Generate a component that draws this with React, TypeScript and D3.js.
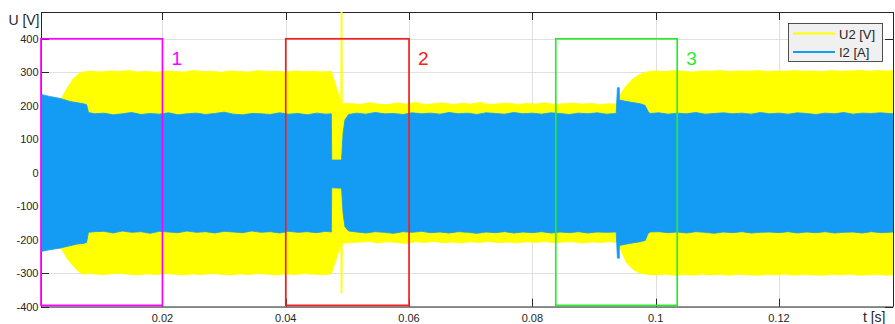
import React from 'react';
import * as d3 from 'd3';

type Env = [number, number, number]; // [t (s), upper envelope, lower envelope]

const X_TICKS = [0.02, 0.04, 0.06, 0.08, 0.1, 0.12];
const X_TICK_LABELS = ['0.02', '0.04', '0.06', '0.08', '0.1', '0.12'];
const Y_TICKS = [-400, -300, -200, -100, 0, 100, 200, 300, 400];
const SERIES_NAMES = ['U2 [V]', 'I2 [A]'];
const SERIES_COLORS = ['#ffff00', '#149cf4'];

const U2_ENVELOPE: Env[] = [
  [0.0003, 218, -222], [0.0036, 222, -226], [0.0045, 252, -255], [0.0056, 282, -280],
  [0.0064, 295, -295], [0.0070, 301, -302], [0.0085, 303, -301], [0.0100, 301, -304],
  [0.0115, 304, -302], [0.0130, 302, -300], [0.0145, 305, -303], [0.0160, 301, -305],
  [0.0175, 303, -302], [0.0190, 300, -304], [0.0205, 304, -301], [0.0220, 302, -303],
  [0.0235, 301, -305], [0.0250, 305, -302], [0.0265, 302, -304], [0.0280, 303, -301],
  [0.0295, 300, -303], [0.0310, 304, -305], [0.0325, 302, -302], [0.0340, 301, -304],
  [0.0355, 305, -301], [0.0370, 302, -303], [0.0385, 303, -305], [0.0400, 301, -302],
  [0.0415, 304, -304], [0.0430, 302, -301], [0.0445, 303, -303], [0.0460, 301, -304],
  [0.0474, 303, -302], [0.04893, 212, -214], [0.04897, 520, -360], [0.04913, 520, -360],
  [0.04917, 206, -210], [0.0505, 207, -209], [0.0520, 204, -207], [0.0535, 209, -205],
  [0.0550, 205, -210], [0.0565, 203, -206], [0.0580, 208, -208], [0.0595, 205, -211],
  [0.0610, 210, -206], [0.0625, 204, -208], [0.0640, 206, -205], [0.0655, 209, -209],
  [0.0670, 204, -207], [0.0685, 207, -210], [0.0700, 205, -206], [0.0715, 210, -208],
  [0.0730, 204, -205], [0.0745, 206, -209], [0.0760, 208, -207], [0.0775, 204, -210],
  [0.0790, 207, -206], [0.0805, 205, -208], [0.0820, 209, -205], [0.0835, 204, -209],
  [0.0850, 206, -207], [0.0865, 208, -206], [0.0880, 205, -210], [0.0895, 207, -207],
  [0.0910, 204, -208], [0.0925, 206, -206], [0.0938, 205, -208], [0.0942, 232, -224],
  [0.0953, 262, -270], [0.0964, 282, -290], [0.0975, 294, -300], [0.0985, 301, -303],
  [0.0999, 304, -305], [0.1015, 302, -303], [0.1030, 305, -306], [0.1045, 303, -304],
  [0.1060, 301, -306], [0.1075, 304, -303], [0.1090, 303, -305], [0.1105, 305, -304],
  [0.1120, 302, -306], [0.1135, 304, -303], [0.1150, 303, -305], [0.1165, 305, -306],
  [0.1180, 302, -304], [0.1195, 304, -305], [0.1210, 303, -303], [0.1225, 305, -306],
  [0.1240, 303, -304], [0.1255, 304, -305], [0.1270, 302, -306], [0.1285, 305, -304],
  [0.1300, 303, -305], [0.1315, 304, -303], [0.1330, 306, -306], [0.1345, 303, -305],
  [0.1360, 305, -304], [0.1375, 304, -306], [0.1385, 305, -305],
];

const I2_ENVELOPE: Env[] = [
  [0.0003, 234, -235], [0.0017, 228, -230], [0.0034, 222, -225], [0.0050, 213, -218],
  [0.0062, 209, -213], [0.0072, 206, -211], [0.0077, 203, -208], [0.0080, 180, -178],
  [0.0090, 176, -176], [0.0105, 178, -175], [0.0120, 173, -180], [0.0135, 176, -174],
  [0.0150, 180, -178], [0.0165, 174, -176], [0.0180, 177, -181], [0.0195, 175, -175],
  [0.0210, 179, -177], [0.0225, 173, -179], [0.0240, 176, -174], [0.0255, 178, -178],
  [0.0270, 174, -176], [0.0285, 177, -180], [0.0300, 181, -175], [0.0315, 175, -177],
  [0.0330, 173, -179], [0.0345, 177, -174], [0.0360, 176, -178], [0.0375, 174, -176],
  [0.0390, 179, -180], [0.0405, 175, -175], [0.0420, 177, -178], [0.0435, 173, -176],
  [0.0450, 178, -179], [0.0465, 175, -175], [0.0474, 176, -177], [0.04745, 38, -45],
  [0.04905, 38, -46], [0.0493, 118, -121], [0.0496, 158, -161], [0.0502, 174, -174],
  [0.0515, 178, -177], [0.0530, 175, -180], [0.0545, 180, -176], [0.0560, 176, -178],
  [0.0575, 177, -181], [0.0590, 174, -176], [0.0605, 179, -178], [0.0620, 176, -175],
  [0.0635, 178, -179], [0.0650, 175, -177], [0.0665, 180, -180], [0.0680, 176, -176],
  [0.0695, 178, -178], [0.0710, 174, -181], [0.0725, 179, -177], [0.0740, 177, -179],
  [0.0755, 175, -176], [0.0770, 180, -180], [0.0785, 176, -177], [0.0800, 178, -179],
  [0.0815, 175, -176], [0.0830, 179, -180], [0.0845, 177, -177], [0.0860, 174, -179],
  [0.0875, 178, -176], [0.0890, 176, -180], [0.0905, 179, -177], [0.0920, 175, -178],
  [0.0936, 177, -177], [0.09380, 254, -255], [0.09410, 254, -255], [0.09412, 217, -217],
  [0.0958, 211, -211], [0.0975, 206, -206], [0.0983, 201, -202], [0.0988, 182, -181],
  [0.0991, 177, -177], [0.1005, 179, -176], [0.1020, 175, -179], [0.1035, 178, -177],
  [0.1050, 176, -180], [0.1065, 180, -176], [0.1080, 175, -178], [0.1095, 177, -181],
  [0.1110, 179, -177], [0.1125, 176, -179], [0.1140, 178, -176], [0.1155, 175, -180],
  [0.1170, 180, -178], [0.1185, 176, -177], [0.1200, 178, -179], [0.1215, 175, -176],
  [0.1230, 179, -180], [0.1245, 177, -177], [0.1260, 174, -179], [0.1275, 178, -176],
  [0.1290, 176, -180], [0.1305, 180, -178], [0.1320, 175, -177], [0.1335, 178, -180],
  [0.1350, 177, -176], [0.1365, 179, -179], [0.1385, 176, -177],
];

const REGION_NAMES = ['1', '2', '3'];
const REGION_COLORS = ['#ff00ff', '#f42020', '#2ee82e'];
const REGION_T_START = [0.0003, 0.04, 0.0838];
const REGION_T_END = [0.02, 0.06, 0.1035];
const REGION_V_LOW = -396;
const REGION_V_HIGH = 400;

const X_DOMAIN: [number, number] = [0.0003, 0.1385];
const Y_DOMAIN: [number, number] = [-400, 480];

const W = 895;
const H = 324;
const L = 41;
const R = 893;
const T = 12;
const B = 306.7;
const FONT = '"Liberation Sans", Arial, Helvetica, sans-serif';
const INK = '#262626';

export default function App() {
  const x = d3.scaleLinear().domain(X_DOMAIN).range([L, R]);
  const y = d3.scaleLinear().domain(Y_DOMAIN).range([B, T]);
  const area = d3
    .area<Env>()
    .x((d) => x(d[0]))
    .y0((d) => y(d[2]))
    .y1((d) => y(d[1]));
  const tickLen = 8;

  return (
    <div style={{ position: 'absolute', left: 0, top: 0 }}>
      <svg width={W} height={H} style={{ display: 'block', background: '#fff' }}>
        <defs>
          <clipPath id="plotclip">
            <rect x={L} y={T} width={R - L} height={B - T} />
          </clipPath>
        </defs>
        {/* grid */}
        <g stroke="#dfdfdf" strokeWidth={1}>
          {X_TICKS.map((t) => (
            <line key={'gx' + t} x1={Math.round(x(t)) + 0.5} x2={Math.round(x(t)) + 0.5} y1={T} y2={B} />
          ))}
          {Y_TICKS.map((v) => (
            <line key={'gy' + v} x1={L} x2={R} y1={Math.round(y(v)) + 0.5} y2={Math.round(y(v)) + 0.5} />
          ))}
        </g>
        {/* box + ticks (under the data) */}
        <g stroke={INK} strokeWidth={1} fill="none">
          <line x1={L} x2={R + 0.5} y1={T + 0.5} y2={T + 0.5} />
          <line x1={L} x2={R + 0.5} y1={B + 0.3} y2={B + 0.3} />
          <line x1={L + 0.5} x2={L + 0.5} y1={T} y2={B} />
          <line x1={R + 0.5} x2={R + 0.5} y1={T} y2={B} />
          {X_TICKS.map((t) => (
            <g key={'tx' + t}>
              <line x1={Math.round(x(t)) + 0.5} x2={Math.round(x(t)) + 0.5} y1={B} y2={B - tickLen} />
              <line x1={Math.round(x(t)) + 0.5} x2={Math.round(x(t)) + 0.5} y1={T} y2={T + tickLen} />
            </g>
          ))}
          {Y_TICKS.map((v) => (
            <g key={'ty' + v}>
              <line x1={L} x2={L + tickLen} y1={Math.round(y(v)) + 0.5} y2={Math.round(y(v)) + 0.5} />
              <line x1={R} x2={R - tickLen} y1={Math.round(y(v)) + 0.5} y2={Math.round(y(v)) + 0.5} />
            </g>
          ))}
        </g>
        {/* data */}
        <g clipPath="url(#plotclip)">
          <path d={area(U2_ENVELOPE) || ''} fill={SERIES_COLORS[0]} stroke={SERIES_COLORS[0]} strokeWidth={0.8} />
          <path d={area(I2_ENVELOPE) || ''} fill={SERIES_COLORS[1]} stroke={SERIES_COLORS[1]} strokeWidth={0.8} />
        </g>
        {/* regions */}
        {REGION_NAMES.map((name, i) => {
          const x0 = x(REGION_T_START[i]);
          const x1 = x(REGION_T_END[i]);
          const y0 = y(REGION_V_HIGH);
          const y1 = y(REGION_V_LOW);
          return (
            <g key={'r' + name}>
              <rect x={x0} y={y0} width={x1 - x0} height={y1 - y0} fill="none" stroke={REGION_COLORS[i]} strokeWidth={1.7} />
              <text x={x1 + 9} y={65} fill={REGION_COLORS[i]} fontFamily={FONT} fontSize={19}>
                {name}
              </text>
            </g>
          );
        })}
        {/* tick labels */}
        <g fontFamily={FONT} fontSize={11} fill={INK}>
          {X_TICKS.map((t, i) => (
            <text key={'lx' + t} x={x(t)} y={321.5} textAnchor="middle">
              {X_TICK_LABELS[i]}
            </text>
          ))}
          {Y_TICKS.map((v) => (
            <text key={'ly' + v} x={38.5} y={y(v) + 4} textAnchor="end">
              {v}
            </text>
          ))}
        </g>
        <text x={39.5} y={25} textAnchor="end" fontFamily={FONT} fontSize={14} fill={INK}>
          U [V]
        </text>
        <text x={885.5} y={321.5} textAnchor="end" fontFamily={FONT} fontSize={14} fill={INK}>
          t [s]
        </text>
        {/* legend */}
        <g>
          <rect x={788.5} y={23.5} width={94} height={38} fill="#f0f0f0" stroke={INK} strokeWidth={0.8} />
          {SERIES_NAMES.map((name, i) => (
            <g key={'lg' + name}>
              <line x1={793} x2={835} y1={33.5 + i * 18.5} y2={33.5 + i * 18.5} stroke={SERIES_COLORS[i]} strokeWidth={2} />
              <text x={839} y={38.5 + i * 18.5} fontFamily={FONT} fontSize={13} fill={INK}>
                {name}
              </text>
            </g>
          ))}
        </g>
      </svg>
    </div>
  );
}
